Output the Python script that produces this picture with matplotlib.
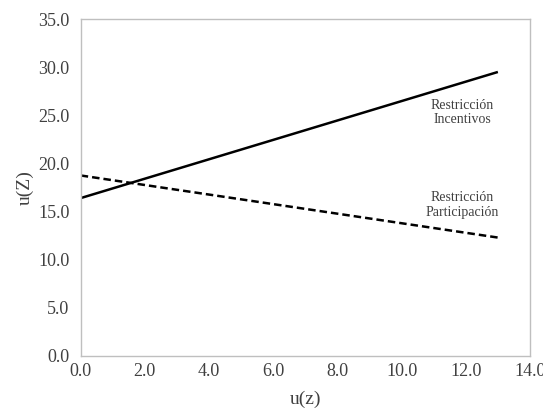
import matplotlib.pyplot as plt

# datos
x_incentivos = [0.0, 13.0]
y_incentivos = [16.4, 29.5]
x_participacion = [0.0, 13.0]
y_participacion = [18.75, 12.3]

x_ticks = [0, 2, 4, 6, 8, 10, 12, 14]
y_ticks = [0, 5, 10, 15, 20, 25, 30, 35]


def main():
    plt.rcParams['font.family'] = ['Liberation Serif', 'DejaVu Serif']
    text_color = '#404040'

    fig = plt.figure(figsize=(5.43, 4.08), dpi=100)
    ax = fig.add_axes([0.1486, 0.1275, 0.8274, 0.8259])

    ax.plot(x_incentivos, y_incentivos, color='black', lw=1.8, solid_capstyle='butt')
    ax.plot(x_participacion, y_participacion, color='black', lw=1.8, ls=(0, (3, 1.6)))

    ax.text(11.9, 25.3, "Restricción\nIncentivos", ha='center', va='center',
            fontsize=10, color=text_color, linespacing=1.15)
    ax.text(11.9, 15.7, "Restricción\nParticipación", ha='center', va='center',
            fontsize=10, color=text_color, linespacing=1.15)

    ax.set_xlim(0, 14)
    ax.set_ylim(0, 35)
    ax.set_xticks(x_ticks)
    ax.set_xticklabels([f"{v:.1f}" for v in x_ticks])
    ax.set_yticks(y_ticks)
    ax.set_yticklabels([f"{v:.1f}" for v in y_ticks])
    ax.tick_params(length=0, labelsize=13, colors=text_color)
    ax.tick_params(axis='y', pad=8)
    ax.tick_params(axis='x', pad=5)

    for s in ax.spines.values():
        s.set_color('#bfbfbf')
        s.set_linewidth(1.0)

    ax.set_xlabel("u(z)", fontsize=14, color=text_color, labelpad=8)
    ax.set_ylabel("u(Z)", fontsize=14, color=text_color, labelpad=3)

    fig.savefig("out.png", dpi=100)
    plt.close(fig)


if __name__ == "__main__":
    main()
